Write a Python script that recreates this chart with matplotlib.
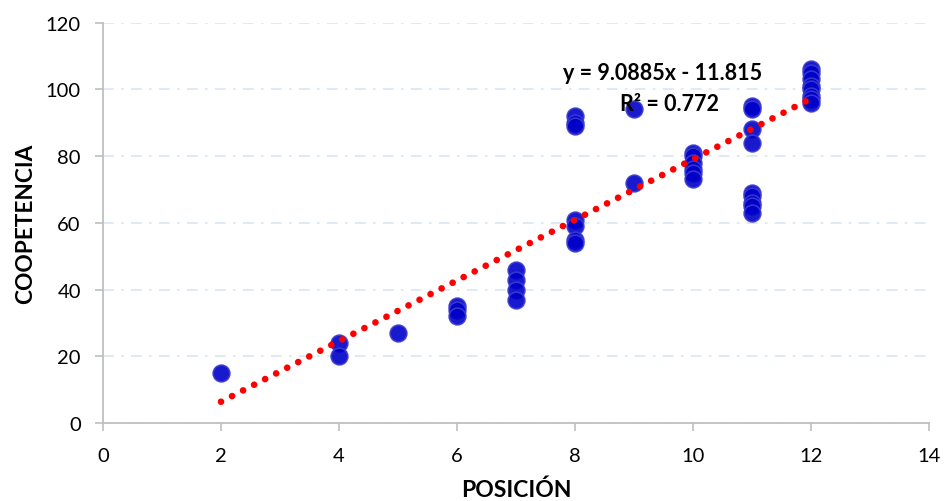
"""Scatter of COOPETENCIA vs POSICIÓN with linear trendline (Excel-style)."""

import matplotlib
matplotlib.use("Agg")
import matplotlib.pyplot as plt
import numpy as np

plt.rcParams["font.family"] = ["Lato", "DejaVu Sans"]

# values
posicion = [2, 4, 4, 5, 6, 6, 6, 7, 7, 7, 7,
            8, 8, 8, 8, 8, 8, 8, 9, 9,
            10, 10, 10, 10, 10, 10,
            11, 11, 11, 11, 11, 11, 11, 11, 11,
            12, 12, 12, 12, 12, 12, 12, 12]
coopetencia = [15, 24, 20, 27, 35, 34, 32, 46, 43, 40, 37,
               92, 90, 89, 61, 59, 55, 54, 94, 72,
               81, 80, 78, 76, 75, 73,
               95, 94, 88, 84, 69, 68, 66, 65, 63,
               106, 105, 103, 101, 100, 98, 97, 96]

slope, intercept, r2 = 9.0885, -11.815, 0.772
trend_x = [2, 12]

x_ticks = [0, 2, 4, 6, 8, 10, 12, 14]
y_ticks = [0, 20, 40, 60, 80, 100, 120]

fig = plt.figure(figsize=(9.44, 5.02), dpi=100)
ax = fig.add_axes([0.1091, 0.1554, 0.8750, 0.7974])

ax.scatter(posicion, coopetencia, s=145, color="#0000C8",
           edgecolor="#3a3ad0", linewidth=1.2, alpha=0.9, zorder=3)

tx = np.array(trend_x, dtype=float)
ax.plot(tx, slope * tx + intercept, color="#FF0000", lw=4.8,
        linestyle=(0, (0.01, 1.85)), dash_capstyle="round", zorder=4)

# Excel-style trendline label (two lines, each centred on its own)
ax.text(9.48, 103.0, f"y = {slope}x - {abs(intercept):.3f}",
        ha="center", va="baseline", fontsize=15.5, fontweight="bold", zorder=5)
ax.text(9.60, 93.9, f"R² = {r2}",
        ha="center", va="baseline", fontsize=15.5, fontweight="bold", zorder=5)

ax.set_xlim(0, 14)
ax.set_ylim(0, 120)
ax.set_xticks(x_ticks)
ax.set_yticks(y_ticks)
ax.tick_params(labelsize=14.5, color="#bfbfbf", length=6, width=1.2)
ax.tick_params(axis="x", pad=11)
ax.tick_params(axis="y", pad=10)
ax.yaxis.grid(True, color="#dce8f5", linestyle=(0, (6, 4, 1.5, 4)), lw=1.3)
ax.set_axisbelow(True)
for side in ("top", "right"):
    ax.spines[side].set_visible(False)
for side in ("left", "bottom"):
    ax.spines[side].set_color("#bfbfbf")
    ax.spines[side].set_linewidth(1.3)

ax.set_xlabel("POSICIÓN", fontsize=16.5, fontweight="bold", labelpad=11)
ax.set_ylabel("COOPETENCIA", fontsize=16.3, fontweight="bold", labelpad=7)

fig.savefig("out.png", dpi=100)
